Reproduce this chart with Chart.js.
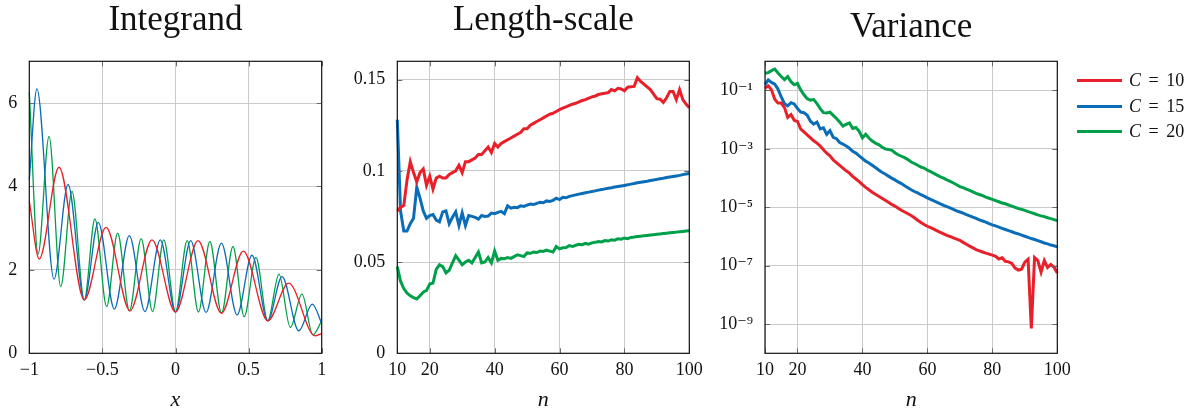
<!DOCTYPE html>
<html>
<head>
<meta charset="utf-8">
<script src="https://cdn.jsdelivr.net/npm/chart.js@4.4.1/dist/chart.umd.min.js"></script>
<style>
  body { margin: 0; background: #fff; width: 1193px; height: 408px; overflow: hidden; position: relative; font-family: "Liberation Serif", serif; }
  canvas { position: absolute; top: 0; }
  #legend { position: absolute; left: 1077px; top: 68px; font-size: 18px; color: #111; word-spacing: 3px; }
  #legend .row { height: 25.5px; display: flex; align-items: center; }
  #legend .sw { width: 45px; height: 3px; margin-right: 7px; }
</style>
</head>
<body>
<canvas id="c1" width="340" height="408" style="left:0"></canvas>
<canvas id="c2" width="380" height="408" style="left:340px"></canvas>
<canvas id="c3" width="400" height="408" style="left:700px"></canvas>
<div id="legend"></div>
<script>
// colours of the three C values
const COLORS = { red: '#e8202a', blue: '#0b6db7', green: '#00a04a' };
const SERIES = ['C = 10', 'C = 15', 'C = 20'];

// --- Integrand: extrema (x, value)
const intRedX   = [-1, -0.932, -0.797, -0.624, -0.475, -0.311, -0.161, 0, 0.154, 0.314, 0.464, 0.631, 0.774, 0.954, 1];
const intRedY   = [3.64, 2.26, 4.46, 1.28, 3.02, 1.02, 2.72, 0.99, 2.70, 0.96, 2.45, 0.78, 1.68, 0.42, 0.48];
const intBlueX  = [-1, -0.948, -0.831, -0.735, -0.624, -0.528, -0.418, -0.316, -0.209, -0.104, 0, 0.104, 0.209, 0.314, 0.421, 0.523, 0.631, 0.729, 0.843, 0.936, 1];
const intBlueY  = [4.16, 6.34, 1.78, 4.05, 1.28, 3.14, 1.06, 2.82, 1.00, 2.72, 0.99, 2.70, 0.98, 2.64, 0.92, 2.35, 0.78, 1.84, 0.54, 1.18, 0.72];
const intGreenX = [-1, -0.94, -0.865, -0.785, -0.708, -0.624, -0.551, -0.471, -0.396, -0.315, -0.235, -0.157, -0.08, 0, 0.08, 0.157, 0.235, 0.315, 0.393, 0.47, 0.55, 0.631, 0.708, 0.785, 0.865, 0.94, 1];
const intGreenY = [6.26, 2.38, 5.20, 1.60, 3.88, 1.28, 3.22, 1.12, 2.88, 1.02, 2.75, 1.00, 2.72, 0.99, 2.70, 0.99, 2.68, 0.96, 2.56, 0.88, 2.30, 0.78, 1.90, 0.62, 1.42, 0.44, 0.78];

// --- n = 10 .. 100
const nVals = Array.from({ length: 91 }, (_, i) => 10 + i);

// --- Length-scale
const lenRed = [
  0.078, 0.080, 0.081, 0.095, 0.105, 0.099, 0.094, 0.099, 0.101, 0.092,
  0.097, 0.090, 0.096, 0.097, 0.096, 0.096, 0.098, 0.099, 0.100, 0.103,
  0.099, 0.105, 0.105, 0.106, 0.107, 0.109, 0.109, 0.111, 0.113, 0.110,
  0.115, 0.113, 0.115, 0.116, 0.117, 0.118, 0.119, 0.120, 0.121, 0.123,
  0.123, 0.125, 0.126, 0.127, 0.128, 0.129, 0.130, 0.131, 0.1315, 0.1325,
  0.1335, 0.1343, 0.135, 0.1358, 0.1365, 0.137, 0.1378, 0.1385, 0.139, 0.1398,
  0.1405, 0.141, 0.1418, 0.1422, 0.1425, 0.1428, 0.1445, 0.1438, 0.1452, 0.1448,
  0.1438, 0.1458, 0.146, 0.1462, 0.151, 0.149, 0.1475, 0.146, 0.1445, 0.142,
  0.1395, 0.1392, 0.1375, 0.140, 0.1435, 0.1435, 0.139, 0.1445, 0.139, 0.1365,
  0.1345
];
const lenBlue = [
  0.128, 0.078, 0.067, 0.067, 0.071, 0.074, 0.091, 0.085, 0.078, 0.074,
  0.0755, 0.076, 0.073, 0.072, 0.0775, 0.078, 0.071, 0.0745, 0.0775, 0.070,
  0.077, 0.070, 0.0755, 0.075, 0.0745, 0.0735, 0.0755, 0.075, 0.0752, 0.0768,
  0.0765, 0.0772, 0.0778, 0.0765, 0.0808, 0.0795, 0.080, 0.0798, 0.0808, 0.0805,
  0.0812, 0.0818, 0.0815, 0.0822, 0.0828, 0.0825, 0.0835, 0.0832, 0.0838, 0.0850,
  0.0842, 0.0855, 0.0852, 0.0860, 0.0864, 0.0868, 0.0872, 0.0876, 0.0880, 0.0883,
  0.0887, 0.0890, 0.0894, 0.0897, 0.0901, 0.0904, 0.0907, 0.0911, 0.0914, 0.0917,
  0.0920, 0.0923, 0.0927, 0.0930, 0.0934, 0.0937, 0.0940, 0.0943, 0.0947, 0.0950,
  0.0953, 0.0956, 0.0959, 0.0963, 0.0966, 0.0969, 0.0972, 0.0975, 0.0979, 0.0982,
  0.0985
];
const lenGreen = [
  0.0475, 0.0395, 0.0355, 0.0330, 0.0315, 0.0305, 0.0298, 0.0315, 0.0335, 0.0345,
  0.0380, 0.0385, 0.0460, 0.0485, 0.0475, 0.0440, 0.0455, 0.0495, 0.0535, 0.0510,
  0.0485, 0.0500, 0.0510, 0.0495, 0.0525, 0.0555, 0.0495, 0.0500, 0.0525, 0.0495,
  0.0560, 0.0510, 0.0520, 0.0518, 0.0525, 0.0520, 0.0530, 0.0540, 0.0535, 0.0530,
  0.0550, 0.0548, 0.0555, 0.0552, 0.0560, 0.0558, 0.0565, 0.0560, 0.0555, 0.0585,
  0.0572, 0.0578, 0.0580, 0.0590, 0.0585, 0.0592, 0.0597, 0.0595, 0.0602, 0.0598,
  0.0605, 0.0608, 0.0612, 0.0610, 0.0618, 0.0615, 0.0622, 0.0620, 0.0628, 0.0625,
  0.0632, 0.0628, 0.0635, 0.0637, 0.0640, 0.0642, 0.0644, 0.0646, 0.0648, 0.0650,
  0.0652, 0.0654, 0.0656, 0.0658, 0.0660, 0.0662, 0.0664, 0.0666, 0.0668, 0.0670,
  0.0672
];

// --- Variance
const varRed = [
  1.2e-1, 1.45e-1, 1.05e-1, 5.0e-2, 3.7e-2, 3.7e-2, 2.6e-2, 1.2e-2, 1.5e-2, 9.5e-3,
  8.7e-3, 4.8e-3, 3.8e-3, 3.0e-3, 2.4e-3, 1.9e-3, 1.58e-3, 1.26e-3, 9.3e-4, 7.1e-4,
  5.75e-4, 4.2e-4, 3.4e-4, 2.75e-4, 2.2e-4, 1.78e-4, 1.48e-4, 1.15e-4, 9.3e-5, 7.6e-5,
  6.0e-5, 4.8e-5, 4.0e-5, 3.3e-5, 2.8e-5, 2.4e-5, 2.04e-5, 1.74e-5, 1.48e-5, 1.26e-5,
  1.1e-5, 9.3e-6, 7.9e-6, 6.9e-6, 6.0e-6, 5.25e-6, 4.4e-6, 3.6e-6, 3.0e-6, 2.57e-6,
  2.24e-6, 2.0e-6, 1.78e-6, 1.55e-6, 1.38e-6, 1.23e-6, 1.1e-6, 1.0e-6, 8.9e-7, 8.1e-7,
  7.4e-7, 6.3e-7, 5.4e-7, 4.7e-7, 4.1e-7, 3.55e-7, 3.24e-7, 2.95e-7, 2.7e-7, 2.5e-7,
  2.3e-7, 2.1e-7, 1.7e-7, 1.86e-7, 1.41e-7, 1.35e-7, 1.2e-7, 8.3e-8, 7.1e-8, 7.6e-8,
  1.32e-7, 1.66e-7, 7.1e-10, 1.9e-7, 1.5e-7, 6.0e-8, 1.5e-7, 8.7e-8, 1.1e-7, 8.9e-8,
  5.6e-8
];
const varBlue = [
  1.58e-1, 2.29e-1, 1.9e-1, 1.66e-1, 1.12e-1, 6.0e-2, 3.55e-2, 3.0e-2, 3.8e-2, 3.47e-2,
  2.4e-2, 1.82e-2, 1.74e-2, 1.41e-2, 8.9e-3, 7.1e-3, 8.3e-3, 4.8e-3, 5.25e-3, 3.16e-3,
  4.2e-3, 2.5e-3, 2.24e-3, 1.66e-3, 1.45e-3, 1.26e-3, 1.05e-3, 8.3e-4, 7.2e-4, 5.75e-4,
  4.7e-4, 3.8e-4, 3.3e-4, 2.75e-4, 2.3e-4, 1.9e-4, 1.58e-4, 1.38e-4, 1.17e-4, 1.0e-4,
  8.7e-5, 7.4e-5, 6.5e-5, 5.5e-5, 4.7e-5, 4.0e-5, 3.47e-5, 3.1e-5, 2.7e-5, 2.4e-5,
  2.1e-5, 1.86e-5, 1.66e-5, 1.48e-5, 1.32e-5, 1.17e-5, 1.05e-5, 9.5e-6, 8.5e-6, 7.6e-6,
  6.9e-6, 6.3e-6, 5.6e-6, 5.1e-6, 4.6e-6, 4.2e-6, 3.7e-6, 3.4e-6, 3.1e-6, 2.75e-6,
  2.5e-6, 2.3e-6, 2.1e-6, 1.9e-6, 1.74e-6, 1.58e-6, 1.45e-6, 1.32e-6, 1.23e-6, 1.12e-6,
  1.02e-6, 9.3e-7, 8.5e-7, 7.9e-7, 7.2e-7, 6.6e-7, 6.0e-7, 5.6e-7, 5.1e-7, 4.8e-7,
  4.4e-7
];
const varGreen = [
  3.9e-1, 4.1e-1, 4.8e-1, 5.4e-1, 4.0e-1, 3.0e-1, 2.35e-1, 3.0e-1, 2.0e-1, 1.58e-1,
  1.74e-1, 1.05e-1, 7.1e-2, 5.25e-2, 4.7e-2, 4.9e-2, 3.55e-2, 2.4e-2, 1.74e-2, 1.7e-2,
  1.82e-2, 1.41e-2, 1.1e-2, 8.3e-3, 6.0e-3, 6.9e-3, 7.8e-3, 5.0e-3, 5.4e-3, 4.0e-3,
  2.4e-3, 3.16e-3, 2.35e-3, 1.86e-3, 1.58e-3, 1.41e-3, 1.17e-3, 1.0e-3, 9.5e-4, 9.1e-4,
  7.4e-4, 6.3e-4, 5.6e-4, 5.0e-4, 4.3e-4, 3.55e-4, 3.16e-4, 2.75e-4, 2.4e-4, 2.2e-4,
  1.86e-4, 1.66e-4, 1.45e-4, 1.26e-4, 1.1e-4, 1.0e-4, 8.7e-5, 7.8e-5, 6.8e-5, 5.9e-5,
  5.1e-5, 4.7e-5, 4.2e-5, 3.8e-5, 3.4e-5, 3.0e-5, 2.75e-5, 2.5e-5, 2.24e-5, 2.04e-5,
  1.86e-5, 1.7e-5, 1.55e-5, 1.41e-5, 1.32e-5, 1.2e-5, 1.1e-5, 1.0e-5, 9.1e-6, 8.5e-6,
  7.8e-6, 7.1e-6, 6.6e-6, 6.0e-6, 5.5e-6, 5.1e-6, 4.8e-6, 4.4e-6, 4.1e-6, 3.8e-6,
  3.5e-6
];

// tick positions / labels
const intXTicks = [-1, -0.5, 0, 0.5, 1];
const intXLabels = ['\u22121', '\u22120.5', '0', '0.5', '1'];
const intYTicks = [0, 2, 4, 6];
const nTicks = [10, 20, 40, 60, 80, 100];
const lenYTicks = [0, 0.05, 0.1, 0.15];
const lenYLabels = ['0', '0.05', '0.1', '0.15'];
const varYTicks = [1e-9, 1e-7, 1e-5, 1e-3, 1e-1];
const varYLabels = ['10\u207B\u2079', '10\u207B\u2077', '10\u207B\u2075', '10\u207B\u00B3', '10\u207B\u00B9'];

const FONT = '"Liberation Serif", "DejaVu Serif", serif';
const AREA_BOTTOM = 353.3;

// frame + inner tick marks like pgfplots
const framePlugin = {
  id: 'frame',
  afterDatasetsDraw(chart) {
    const { ctx, chartArea: a, scales } = chart;
    ctx.save();
    ctx.strokeStyle = '#6a6a6a';
    ctx.lineWidth = 1;
    const t = 5;
    ctx.beginPath();
    scales.x.ticks.forEach(tk => {
      const p = Math.round(scales.x.getPixelForValue(tk.value)) + 0.5;
      ctx.moveTo(p, a.bottom); ctx.lineTo(p, a.bottom - t);
      ctx.moveTo(p, a.top); ctx.lineTo(p, a.top + t);
    });
    scales.y.ticks.forEach(tk => {
      const p = Math.round(scales.y.getPixelForValue(tk.value)) + 0.5;
      ctx.moveTo(a.left, p); ctx.lineTo(a.left + t, p);
      ctx.moveTo(a.right, p); ctx.lineTo(a.right - t, p);
    });
    ctx.stroke();
    ctx.strokeStyle = '#151515';
    ctx.lineWidth = 1.2;
    ctx.strokeRect(a.left, a.top, a.width, a.height);
    ctx.restore();
  }
};

function _ds(label, xs, ys, color, width) {
  return {
    label, data: xs.map((x, i) => ({ x, y: ys[i] })),
    borderColor: color, backgroundColor: 'transparent',
    borderWidth: width, pointRadius: 0, clip: 4,
  };
}

function _xScale(min, max, ticks, labels, title) {
  return {
    type: 'linear', min, max,
    afterBuildTicks: s => { s.ticks = ticks.map(v => ({ value: v })); },
    afterFit: s => { s.height = 408 - AREA_BOTTOM; },
    grid: { color: '#cacaca', lineWidth: 1, drawTicks: false },
    border: { display: false },
    ticks: {
      padding: 6, maxRotation: 0, color: '#111', font: { family: FONT, size: 18 },
      callback: v => { const i = ticks.indexOf(v); return labels ? labels[i] : String(v); },
    },
    title: { display: true, text: title, color: '#111', padding: 0,
             font: { family: FONT, size: 22, style: 'italic', lineHeight: 0.75 } },
  };
}

function _yScale(type, min, max, ticks, labels, width) {
  return {
    type, min, max,
    afterBuildTicks: s => { s.ticks = ticks.map(v => ({ value: v })); },
    afterFit: s => { s.width = width; },
    grid: { color: '#cacaca', lineWidth: 1, drawTicks: false },
    border: { display: false },
    ticks: {
      padding: 12, color: '#111', font: { family: FONT, size: 18 },
      callback: v => { const i = ticks.indexOf(v); return labels ? labels[i] : String(v); },
    },
  };
}

function _base(datasets, x, y, title, titlePad, rightPad) {
  return {
    type: 'line',
    data: { datasets },
    options: {
      animation: false, responsive: false,
      layout: { padding: { left: 0, right: rightPad, top: 0, bottom: 0 } },
      elements: { line: { tension: 0 } },
      plugins: {
        legend: { display: false }, tooltip: { enabled: false },
        title: { display: true, text: title, fullSize: false, color: '#111',
                 font: { family: FONT, size: 35, weight: 'normal', lineHeight: 1.1 },
                 padding: titlePad },
      },
      scales: { x, y },
    },
    plugins: [framePlugin],
  };
}

// Integrand
const intSets = [
  _ds(SERIES[0], intRedX, intRedY, COLORS.red, 1.3),
  _ds(SERIES[1], intBlueX, intBlueY, COLORS.blue, 1.3),
  _ds(SERIES[2], intGreenX, intGreenY, COLORS.green, 1.3),
];
intSets.forEach(d => { d.cubicInterpolationMode = 'monotone'; });
new Chart(document.getElementById('c1'), _base(
  intSets,
  _xScale(-1, 1, intXTicks, intXLabels, 'x'),
  _yScale('linear', 0, 7, intYTicks, null, 29.3),
  'Integrand', { top: 2, bottom: 20.8 }, 340 - 321.7));

// Length-scale
new Chart(document.getElementById('c2'), _base([
    _ds(SERIES[0], nVals, lenRed, COLORS.red, 3),
    _ds(SERIES[1], nVals, lenBlue, COLORS.blue, 3),
    _ds(SERIES[2], nVals, lenGreen, COLORS.green, 3),
  ],
  _xScale(10, 100, nTicks, null, 'n'),
  _yScale('linear', 0, 0.16, lenYTicks, lenYLabels, 57.3),
  'Length-scale', { top: 2, bottom: 20.8 }, 380 - 349.3));

// Variance
new Chart(document.getElementById('c3'), _base([
    _ds(SERIES[0], nVals, varRed, COLORS.red, 3),
    _ds(SERIES[1], nVals, varBlue, COLORS.blue, 3),
    _ds(SERIES[2], nVals, varGreen, COLORS.green, 3),
  ],
  _xScale(10, 100, nTicks, null, 'n'),
  _yScale('logarithmic', 1e-10, 1, varYTicks, varYLabels, 65),
  'Variance', { top: 9, bottom: 13.8 }, 400 - 357.3));

// legend
const legend = document.getElementById('legend');
[COLORS.red, COLORS.blue, COLORS.green].forEach((c, i) => {
  const row = document.createElement('div');
  row.className = 'row';
  const [lhs, rhs] = SERIES[i].split(' = ');
  row.innerHTML = `<span class="sw" style="background:${c}"></span><span><i>${lhs}</i> = ${rhs}</span>`;
  legend.appendChild(row);
});
</script>
</body>
</html>
